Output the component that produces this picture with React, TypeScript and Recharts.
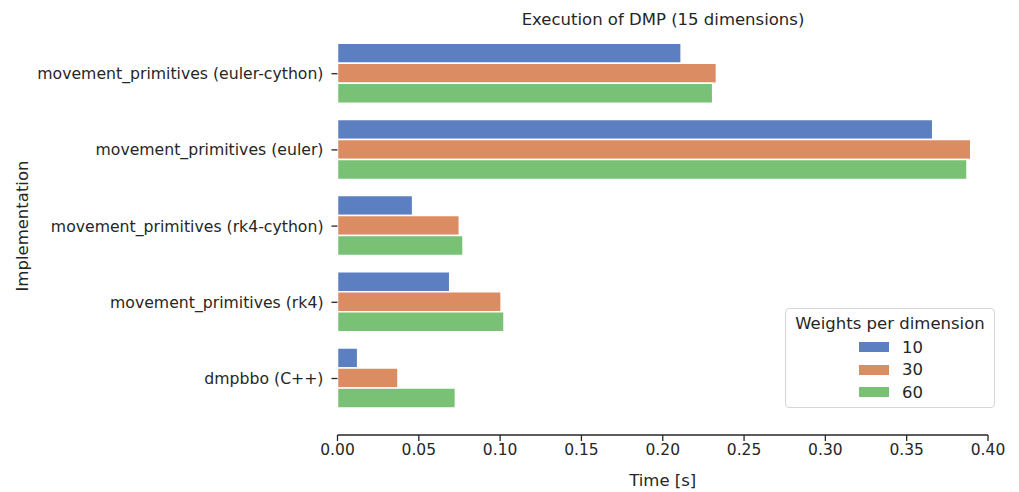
import { Bar, BarChart, XAxis, YAxis } from "recharts";

const implementations = [
  "movement_primitives (euler-cython)",
  "movement_primitives (euler)",
  "movement_primitives (rk4-cython)",
  "movement_primitives (rk4)",
  "dmpbbo (C++)",
];
const weights10 = [0.2113, 0.366, 0.0462, 0.069, 0.0124];
const weights30 = [0.233, 0.3894, 0.0749, 0.1006, 0.0372];
const weights60 = [0.2307, 0.3871, 0.0772, 0.1024, 0.0725];
const timeTicks = [0, 0.05, 0.1, 0.15, 0.2, 0.25, 0.3, 0.35, 0.4];
const seriesNames = ["10", "30", "60"];
const colors = ["#5b7fc0", "#db8c62", "#79c174"];

const data = implementations.map((name, i) => ({
  name,
  w10: weights10[i],
  w30: weights30[i],
  w60: weights60[i],
}));

const font = "'DejaVu Sans', sans-serif";
const ink = "#262626";

function WeightsLegend() {
  return (
    <div
      style={{
        position: "absolute",
        left: 785,
        top: 308,
        boxSizing: "border-box",
        width: 210,
        height: 100,
        border: "1px solid #d6d6d6",
        borderRadius: 4,
        background: "rgba(255,255,255,0.85)",
        fontFamily: font,
        fontSize: 16.5,
        color: ink,
        paddingTop: 3,
      }}
    >
      <div style={{ textAlign: "center", lineHeight: "24px" }}>Weights per dimension</div>
      {seriesNames.map((s, i) => (
        <div key={s} style={{ display: "flex", alignItems: "center", height: 22.5, marginLeft: 73 }}>
          <span style={{ display: "inline-block", width: 30, height: 10, background: colors[i] }} />
          <span style={{ marginLeft: 13 }}>{s}</span>
        </div>
      ))}
    </div>
  );
}

export default function App() {
  return (
    <div style={{ position: "absolute", left: 0, top: 0, width: 1019, height: 492, background: "#fff" }}>
      <BarChart
        width={1019}
        height={492}
        data={data}
        layout="vertical"
        margin={{ top: 35.6, right: 31, bottom: 0, left: 0 }}
        barCategoryGap="10%"
        barGap={0}
      >
        <text x={663} y={19} textAnchor="middle" dominantBaseline="central" fontFamily={font} fontSize={16.5} fill={ink}>
          Execution of DMP (15 dimensions)
        </text>
        <text
          x={22}
          y={226}
          transform="rotate(-90 22 226)"
          textAnchor="middle"
          dominantBaseline="central"
          fontFamily={font}
          fontSize={16.5}
          fill={ink}
        >
          Implementation
        </text>
        <XAxis
          type="number"
          domain={[0, 0.4]}
          ticks={timeTicks}
          tickFormatter={(v: number) => v.toFixed(2)}
          height={57}
          tickSize={6}
          tickMargin={3}
          stroke={ink}
          axisLine={{ stroke: ink, strokeWidth: 1.3 }}
          tickLine={{ stroke: ink, strokeWidth: 1.3 }}
          tick={{ fill: ink, fontFamily: font, fontSize: 15.5 }}
          label={{ value: "Time [s]", position: "insideBottom", offset: 6, fill: ink, fontFamily: font, fontSize: 16.5 }}
        />
        <YAxis
          type="category"
          dataKey="name"
          width={337.5}
          padding={{ top: 0, bottom: 18.4 }}
          axisLine={false}
          tickSize={6}
          tickMargin={8}
          tickLine={{ stroke: ink, strokeWidth: 1.3 }}
          tick={{ fill: ink, fontFamily: font, fontSize: 15.7 }}
        />
        <Bar dataKey="w10" name="10" fill={colors[0]} stroke="#fff" strokeWidth={1.5} isAnimationActive={false} />
        <Bar dataKey="w30" name="30" fill={colors[1]} stroke="#fff" strokeWidth={1.5} isAnimationActive={false} />
        <Bar dataKey="w60" name="60" fill={colors[2]} stroke="#fff" strokeWidth={1.5} isAnimationActive={false} />
      </BarChart>
      <WeightsLegend />
    </div>
  );
}
